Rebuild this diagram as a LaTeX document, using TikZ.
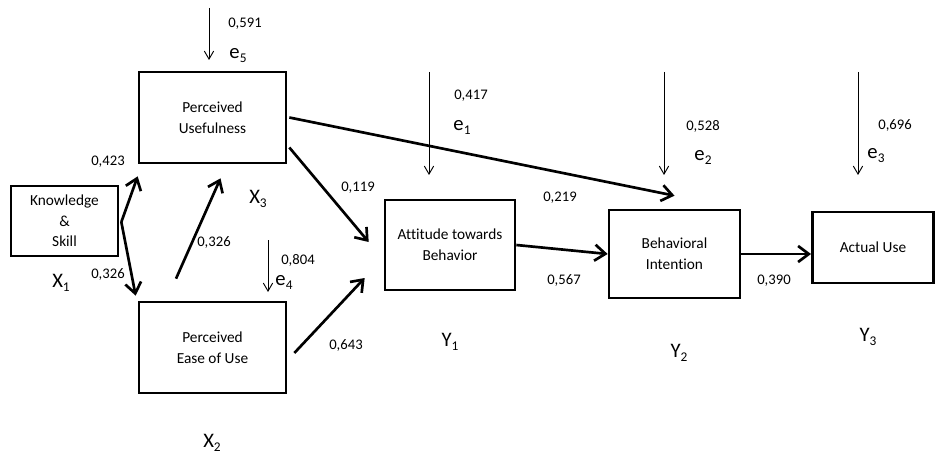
\documentclass[tikz,border=0pt]{standalone}
\usepackage{fontspec}
\setmainfont[Ligatures=NoCommon]{Carlito}
\usetikzlibrary{arrows.meta, calc}

\newcommand{\sublab}[2]{#1\raisebox{-3pt}{\fontsize{10}{10}\selectfont #2}}

\begin{document}
\begin{tikzpicture}[x=0.75pt, y=-0.75pt,
    box/.style={draw, line width=2pt, align=center, inner sep=0pt,
        font=\fontsize{11.5}{15.5}\selectfont},
    pth/.style={line width=2pt, -{Straight Barb[length=8pt, width=12pt]}},
    err/.style={line width=0.7pt, -{Straight Barb[length=6pt, width=7pt]}},
    coef/.style={font=\fontsize{11}{11}\selectfont, inner sep=0pt},
    var/.style={font=\fontsize{15.5}{15.5}\selectfont, inner sep=0pt}]
    \useasboundingbox (0,0) rectangle (935,456);

    % boxes
    \node[box, minimum width=80.25pt, minimum height=52.5pt] (K) at (64.5,221) {Knowledge\\\&\\Skill};
    \node[box, minimum width=110.25pt, minimum height=68.25pt] (PU) at (212.5,117.5) {Perceived\\Usefulness};
    \node[box, minimum width=110.25pt, minimum height=68.25pt] (PEOU) at (212.5,347.5) {Perceived\\Ease of Use};
    \node[box, minimum width=97.5pt, minimum height=67.5pt] (ATB) at (450,245) {Attitude towards\\Behavior};
    \node[box, minimum width=98.25pt, minimum height=66pt] (BI) at (674.5,254) {Behavioral\\Intention};
    \node[box, minimum width=91pt, minimum height=53.25pt] (AU) at (873,247.5) {Actual Use};

    % paths
    \draw[pth] ($(K.east)+(2,1)$) -- ($(PU.south west)+(0,12)$); % 0,423
    \draw[pth] ($(K.east)+(2,1)$) -- ($(PEOU.north west)+(-2,-5)$); % 0,326
    \draw[pth] ($(PEOU.north)+(-36.5,-22)$) -- ($(PU.south)+(8,14)$); % 0,326
    \draw[pth] ($(PU.east)+(2,30)$) -- ($(ATB.west)+(-15,-3)$); % 0,119
    \draw[pth] ($(PEOU.east)+(7,5.5)$) -- ($(ATB.west)+(-19,33)$); % 0,643
    \draw[pth] ($(PU.east)+(2,0)$) -- ($(BI.north)+(0,-13)$); % 0,219
    \draw[pth] (ATB.east) -- (BI.west); % 0,567
    \draw[pth] (BI.east) -- (BI.east -| AU.west); % 0,390

    % error terms
    \coordinate (e5a) at (209,8);   \coordinate (e5b) at (209,60);
    \coordinate (e4a) at (268,240); \coordinate (e4b) at (268,292);
    \coordinate (e1a) at (429,72);  \coordinate (e1b) at (429,175);
    \coordinate (e2a) at (664,72);  \coordinate (e2b) at (664,175);
    \coordinate (e3a) at (858,72);  \coordinate (e3b) at (858,175);
    \foreach \e in {e1,e2,e3,e4,e5}
        \draw[err] (\e a) -- (\e b);

    % coefficients
    \node[coef] (c591) at (245,24) {0,591};
    \node[coef] (c423) at (108,162) {0,423};
    \node[coef] (c326a) at (214,242) {0,326};
    \node[coef] (c326b) at (108,274) {0,326};
    \node[coef] (c804) at (298,260) {0,804};
    \node[coef] (c643) at (346,345) {0,643};
    \node[coef] (c119) at (358,188) {0,119};
    \node[coef] (c417) at (471,96) {0,417};
    \node[coef] (c219) at (560,198) {0,219};
    \node[coef] (c567) at (564,280) {0,567};
    \node[coef] (c528) at (703,126) {0,528};
    \node[coef] (c390) at (774,281) {0,390};
    \node[coef] (c696) at (895,125) {0,696};

    % variable labels
    \node[var] (X1) at (61,283) {\sublab{X}{1}};
    \node[var] (X2) at (212,443) {\sublab{X}{2}};
    \node[var] (X3) at (258,199) {\sublab{X}{3}};
    \node[var] (Y1) at (450,342) {\sublab{Y}{1}};
    \node[var] (Y2) at (679,353) {\sublab{Y}{2}};
    \node[var] (Y3) at (868,337) {\sublab{Y}{3}};
    \node[var] (E5) at (238,56) {\sublab{e}{5}};
    \node[var] (E4) at (284,282) {\sublab{e}{4}};
    \node[var] (E1) at (462,127) {\sublab{e}{1}};
    \node[var] (E2) at (703,157) {\sublab{e}{2}};
    \node[var] (E3) at (876,156) {\sublab{e}{3}};
\end{tikzpicture}
\end{document}
